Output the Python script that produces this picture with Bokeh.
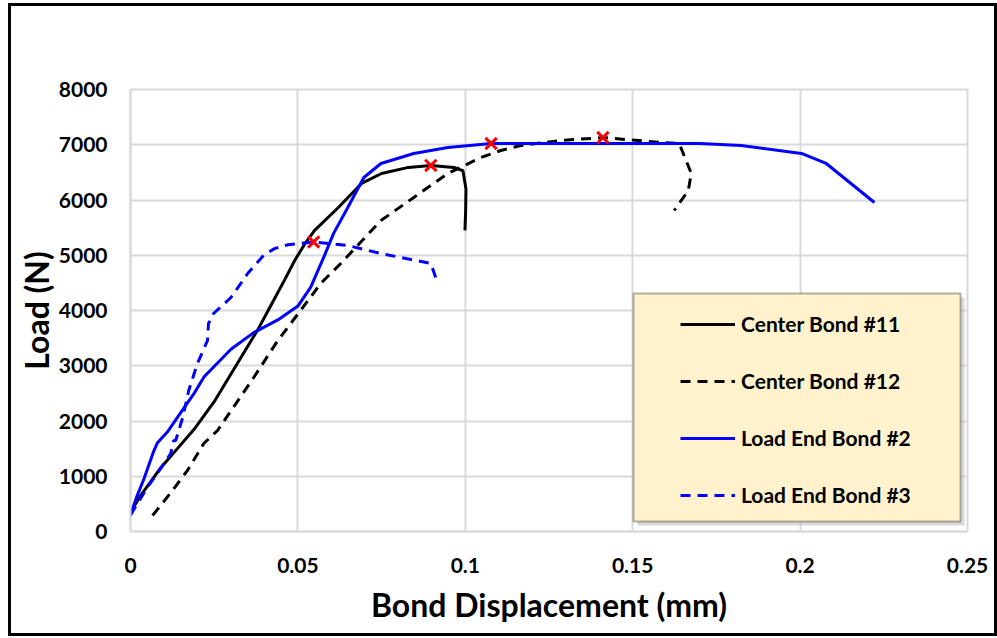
from bokeh.plotting import figure
from bokeh.models import (Range1d, FixedTicker, Legend, LegendItem, BoxAnnotation)
from bokeh.embed import file_html
from bokeh.resources import INLINE

# Bond displacement (mm) vs load (N) for four bond tests
center11_x = [0.0, 0.001, 0.003, 0.006, 0.009, 0.014, 0.019, 0.025, 0.031, 0.038, 0.042,
              0.046, 0.049, 0.052, 0.055, 0.062, 0.069, 0.075, 0.083, 0.0897, 0.0966,
              0.0993, 0.1002, 0.1001, 0.0999]
center11_y = [300, 450, 650, 900, 1150, 1500, 1850, 2350, 2950, 3650, 4100,
              4550, 4900, 5200, 5450, 5860, 6300, 6480, 6590, 6625, 6590,
              6530, 6200, 5800, 5450]

center12_x = [0.0066, 0.012, 0.017, 0.0219, 0.026, 0.0368, 0.044, 0.0508, 0.0568, 0.0628,
              0.0748, 0.0846, 0.0948, 0.1047, 0.1106, 0.1166, 0.1286, 0.1411, 0.1585,
              0.1639, 0.1675, 0.1666, 0.1624]
center12_y = [290, 700, 1104, 1593, 1828, 2787, 3457, 4000, 4489, 4851,
              5629, 6045, 6480, 6770, 6896, 6987, 7077, 7130, 7041,
              7023, 6480, 6172, 5810]

load2_x = [0.0, 0.002, 0.004, 0.0069, 0.008, 0.011, 0.015, 0.019, 0.022, 0.026, 0.030,
           0.0368, 0.044, 0.050, 0.0538, 0.0577, 0.0607, 0.0649, 0.0697, 0.0748,
           0.0846, 0.0948, 0.1077, 0.128, 0.150, 0.170, 0.1824, 0.2004, 0.2078, 0.2222]
load2_y = [300, 650, 950, 1450, 1600, 1800, 2150, 2500, 2800, 3050, 3300,
           3600, 3830, 4080, 4420, 4960, 5400, 5864, 6407, 6661,
           6842, 6950, 7023, 7023, 7023, 7023, 6987, 6842, 6661, 5955]

load3_x = [0.0, 0.005, 0.008, 0.012, 0.0129, 0.0135, 0.0156, 0.0174, 0.020, 0.023,
           0.0233, 0.0248, 0.030, 0.035, 0.0398, 0.043, 0.047, 0.0547, 0.0649, 0.0748,
           0.0897, 0.0918]
load3_y = [300, 796, 1050, 1412, 1647, 1647, 2063, 2552, 3041, 3457,
           3765, 3946, 4235, 4670, 5000, 5120, 5190, 5240, 5177, 5032,
           4851, 4489]

# Peak load of each test
peak_x = [0.0547, 0.0897, 0.1077, 0.1411]
peak_y = [5240, 6625, 7023, 7130]

series_names = ["Center Bond #11", "Center Bond #12", "Load End Bond #2", "Load End Bond #3"]

x_ticks = [0, 0.05, 0.1, 0.15, 0.2, 0.25]
x_tick_labels = ["0", "0.05", "0.1", "0.15", "0.2", "0.25"]
y_ticks = [0, 1000, 2000, 3000, 4000, 5000, 6000, 7000, 8000]

FONT = "Lato"
GRID = "#d9d9d9"

p = figure(width=989, height=633, output_backend="svg", toolbar_location=None,
           x_range=Range1d(0, 0.25), y_range=Range1d(0, 8000),
           min_border_left=119, min_border_right=33, min_border_top=83,
           min_border_bottom=108)
p.styles = {"border": "3px solid black", "margin-left": "8px", "margin-top": "3px"}
p.background_fill_color = "white"
p.border_fill_color = "white"
p.outline_line_color = GRID
p.outline_line_width = 2

p.xaxis.ticker = FixedTicker(ticks=x_ticks)
p.xaxis.major_label_overrides = {t: l for t, l in zip(x_ticks, x_tick_labels)}
p.yaxis.ticker = FixedTicker(ticks=y_ticks)
p.yaxis.major_label_overrides = {t: str(t) for t in y_ticks}

for ax in (p.xaxis, p.yaxis):
    ax.axis_line_color = GRID
    ax.axis_line_width = 2
    ax.major_tick_line_color = None
    ax.minor_tick_line_color = None
    ax.major_label_text_font = FONT
    ax.major_label_text_font_style = "bold"
    ax.major_label_text_font_size = "21px"
    ax.major_label_text_color = "black"
    ax.axis_label_text_font = FONT
    ax.axis_label_text_font_style = "bold"
    ax.axis_label_text_font_size = "32px"
    ax.axis_label_text_color = "black"

p.xaxis.axis_label = "Bond Displacement (mm)"
p.yaxis.axis_label = "Load (N)"
p.xaxis.major_label_standoff = 20
p.yaxis.major_label_standoff = 17
p.xaxis.axis_label_standoff = 9
p.yaxis.axis_label_standoff = 0

p.xgrid.ticker = FixedTicker(ticks=x_ticks)
p.ygrid.ticker = FixedTicker(ticks=y_ticks)
for g in (p.xgrid, p.ygrid):
    g.grid_line_color = GRID
    g.grid_line_width = 2

r1 = p.line(center11_x, center11_y, line_color="black", line_width=3)
r2 = p.line(center12_x, center12_y, line_color="black", line_width=3, line_dash="10 7")
r3 = p.line(load2_x, load2_y, line_color="#0000ff", line_width=3)
r4 = p.line(load3_x, load3_y, line_color="#0000ff", line_width=3, line_dash="10 7")
p.scatter(peak_x, peak_y, marker="x", size=16, line_color="#ff0000", line_width=3)

# Legend panel with a soft drop shadow
shadow = BoxAnnotation(left=623, right=950, top=288, bottom=516,
                       left_units="canvas", right_units="canvas",
                       top_units="canvas", bottom_units="canvas",
                       fill_color="#bfbfbf", fill_alpha=0.6, line_color=None)
panel = BoxAnnotation(left=619, right=946, top=284, bottom=512,
                      left_units="canvas", right_units="canvas",
                      top_units="canvas", bottom_units="canvas",
                      fill_color="#fff2cc", fill_alpha=1.0,
                      line_color="black", line_width=2)
p.add_layout(shadow)
p.add_layout(panel)

legend = Legend(items=[LegendItem(label=n, renderers=[r]) for n, r in
                       zip(series_names, [r1, r2, r3, r4])],
                location=(550, 24))
legend.background_fill_alpha = 0
legend.border_line_color = None
legend.padding = 0
legend.margin = 0
legend.spacing = 32
legend.glyph_width = 55
legend.glyph_height = 20
legend.label_height = 20
legend.label_standoff = 6
legend.label_text_font = FONT
legend.label_text_font_style = "bold"
legend.label_text_font_size = "21px"
legend.label_text_color = "black"
legend.label_text_baseline = "middle"
p.add_layout(legend)

open("out.html", "w").write(file_html(p, INLINE))
